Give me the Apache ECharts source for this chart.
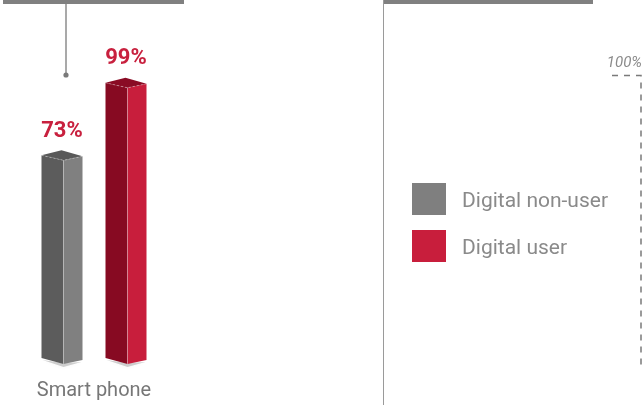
<!DOCTYPE html>
<html>
<head>
<meta charset="utf-8">
<title>Smart phone</title>
<script src="https://cdn.jsdelivr.net/npm/echarts@6/dist/echarts.min.js"></script>
<style>
  html, body { margin: 0; padding: 0; background: #fff; }
  #main { width: 644px; height: 405px; }
</style>
</head>
<body>
<div id="main"></div>
<script>
// 数据
const categories = ['Smart phone'];
const seriesNames = ['Digital non-user', 'Digital user'];
const nonUserValues = [73];
const userValues = [99];

// 颜色 [左面, 右面, 顶面]
const faceColors = [
  ['#5c5c5c', '#808080', '#595959'],
  ['#870a22', '#c81e3c', '#8a0b24']
];
const legendColors = ['#7f7f7f', '#c81e3c'];

const chart = echarts.init(document.getElementById('main'), null, { renderer: 'canvas' });

/**
 * 画立体柱子
 */
function renderBar(seriesIdx) {
  return function (params, api) {
    const value = api.value(1);
    const top = api.coord([api.value(0), value]);
    const base = api.coord([api.value(0), 0]);
    const band = api.size([1, 0])[0];
    const cx = top[0] + (seriesIdx === 0 ? -band * 0.25 : band * 0.25);
    const xL = cx - 20.5;
    const xM = xL + 22;
    const xR = xL + 41;
    const yT = top[1];
    const yB = base[1];
    const c = faceColors[seriesIdx];
    return {
      type: 'group',
      children: [
        // 底部阴影
        {
          type: 'polygon',
          shape: { points: [[xL + 1, yB - 4], [xM, yB + 3], [xR - 1, yB - 2], [xM, yB - 1]] },
          style: { fill: 'rgba(0,0,0,0.18)', shadowBlur: 4, shadowColor: 'rgba(0,0,0,0.25)' }
        },
        {
          type: 'polygon',
          shape: { points: [[xL, yT - 5], [xM, yT], [xM, yB], [xL, yB - 6]] },
          style: { fill: c[0] }
        },
        {
          type: 'polygon',
          shape: { points: [[xM, yT], [xR, yT - 4], [xR, yB - 4], [xM, yB]] },
          style: { fill: c[1] }
        },
        {
          type: 'polygon',
          shape: { points: [[xL, yT - 5], [xL + 20, yT - 10], [xR, yT - 4], [xM, yT]] },
          style: { fill: c[2] }
        },
        // 顶面高光线
        {
          type: 'polyline',
          shape: { points: [[xL, yT - 5], [xM, yT], [xR, yT - 4]] },
          style: { stroke: 'rgba(255,255,255,0.35)', lineWidth: 1, lineDash: [2, 2], fill: null }
        },
        {
          type: 'line',
          shape: { x1: xM, y1: yT, x2: xM, y2: yB },
          style: { stroke: 'rgba(255,255,255,0.3)', lineWidth: 1 }
        },
        {
          type: 'text',
          style: {
            x: cx,
            y: yT - 29,
            text: value + '%',
            fill: '#c8203e',
            font: 'bold 22px Roboto',
            align: 'center',
            verticalAlign: 'middle'
          }
        }
      ]
    };
  };
}

let option = {
  animation: false,
  grid: { left: 30, right: 486, top: 85, bottom: 41 },
  legend: {
    orient: 'vertical',
    left: 412,
    top: 183,
    padding: 0,
    itemWidth: 34,
    itemHeight: 32,
    itemGap: 15,
    icon: 'rect',
    selectedMode: false,
    data: seriesNames,
    formatter: '{t|{name}}',
    textStyle: {
      rich: {
        t: {
          fontFamily: 'Roboto',
          fontSize: 21,
          color: '#8a8a8a',
          padding: [6, 0, 0, 11]
        }
      }
    }
  },
  xAxis: {
    type: 'category',
    data: categories,
    axisLine: { show: false },
    axisTick: { show: false },
    axisLabel: {
      margin: 17,
      fontFamily: 'Roboto',
      fontSize: 20,
      color: '#777777'
    }
  },
  yAxis: {
    type: 'value',
    min: 0,
    max: 100,
    show: false
  },
  series: [
    {
      name: seriesNames[0],
      type: 'custom',
      itemStyle: { color: legendColors[0] },
      renderItem: renderBar(0),
      data: categories.map((c, i) => [i, nonUserValues[i]])
    },
    {
      name: seriesNames[1],
      type: 'custom',
      itemStyle: { color: legendColors[1] },
      renderItem: renderBar(1),
      data: categories.map((c, i) => [i, userValues[i]])
    }
  ],
  graphic: [
    // 左侧标题条
    { type: 'rect', shape: { x: 3, y: 0, width: 181, height: 4 }, style: { fill: '#808080' } },
    { type: 'line', shape: { x1: 66, y1: 4, x2: 66, y2: 74 }, style: { stroke: '#8c8c8c', lineWidth: 1.5 } },
    { type: 'circle', shape: { cx: 66, cy: 75, r: 2.6 }, style: { fill: '#7a7a7a' } },
    // 右侧面板
    { type: 'rect', shape: { x: 383, y: 0, width: 210, height: 4 }, style: { fill: '#808080' } },
    { type: 'line', shape: { x1: 383.5, y1: 0, x2: 383.5, y2: 405 }, style: { stroke: '#9a9a9a', lineWidth: 1 } },
    {
      type: 'text',
      style: {
        x: 642, y: 63, text: '100%',
        font: 'italic 15px Roboto', fill: '#8a8a8a',
        align: 'right', verticalAlign: 'middle'
      }
    },
    {
      type: 'polyline',
      shape: { points: [[612, 75.5], [641, 75.5], [641, 367]] },
      style: { stroke: '#7a7a7a', lineWidth: 1.5, lineDash: [6, 6], fill: null }
    }
  ]
};

chart.setOption(option);
</script>
</body>
</html>
